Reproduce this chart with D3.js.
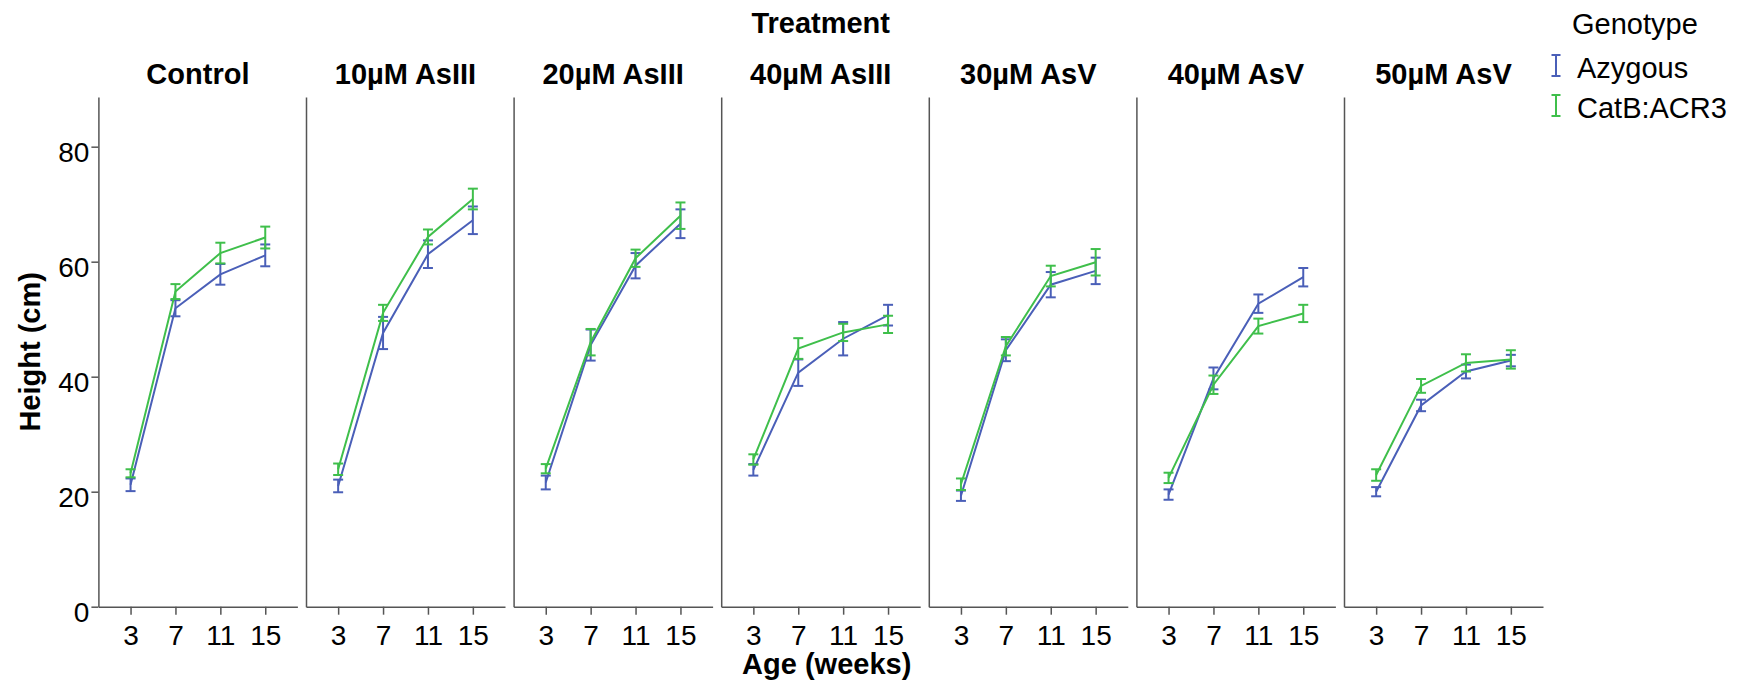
<!DOCTYPE html>
<html>
<head>
<meta charset="utf-8">
<script src="https://cdn.jsdelivr.net/npm/d3@7"></script>
<style>
  body { margin: 0; background: #fff; }
  svg { display: block; font-family: "Liberation Sans", Arial, sans-serif; }
  .axis path, .axis line { stroke: #555; stroke-width: 1.5; }
  .axis text { font-size: 28px; fill: #000; }
</style>
</head>
<body>
<div class="chart-container"></div>
<script>
var w = 1744;
var h = 683;

var treatments = ["Control", "10\u00b5M AsIII", "20\u00b5M AsIII", "40\u00b5M AsIII", "30\u00b5M AsV", "40\u00b5M AsV", "50\u00b5M AsV"];
var weeks = [3, 7, 11, 15];
var genotypes = ["Azygous", "CatB:ACR3"];
var colors = ["#4a5fb8", "#3fbf4b"];
var yTicks = [0, 20, 40, 60, 80];

// mean height (cm) per treatment, one row per treatment, columns = weeks
var azygousMean = [
    [21.2, 51.9, 57.8, 61.1],
    [21.0, 47.6, 61.3, 67.2],
    [21.6, 45.5, 59.3, 66.6],
    [23.8, 40.7, 46.6, 50.7],
    [19.3, 44.6, 56.0, 58.4],
    [19.5, 39.7, 52.7, 57.3],
    [20.0, 35.0, 40.9, 42.8]
];
var azygousErr = [
    [1.1, 1.4, 1.8, 1.9],
    [1.1, 2.8, 2.4, 2.4],
    [1.2, 2.7, 2.2, 2.5],
    [1.0, 2.3, 2.9, 1.8],
    [0.9, 1.9, 2.2, 2.3],
    [0.9, 1.9, 1.6, 1.6],
    [0.8, 1.0, 1.2, 1.0]
];
var catbMean = [
    [23.2, 54.8, 61.5, 64.2],
    [23.9, 51.1, 64.3, 70.9],
    [24.0, 46.0, 60.6, 68.0],
    [25.6, 44.9, 47.7, 49.1],
    [21.3, 45.3, 57.5, 59.9],
    [22.4, 38.6, 48.8, 51.0],
    [22.9, 38.4, 42.4, 43.0]
];
var catbErr = [
    [0.7, 1.3, 1.8, 1.9],
    [1.0, 1.4, 1.3, 1.8],
    [0.8, 2.3, 1.5, 2.3],
    [0.9, 1.8, 1.5, 1.5],
    [1.0, 1.6, 1.8, 2.3],
    [0.9, 1.6, 1.3, 1.5],
    [1.0, 1.2, 1.5, 1.6]
];

var left = 98.4;
var panelW = 199;
var panelStep = 207.6;
var plotTop = 97;
var plotBottom = 606.7;

var svg = d3.select(".chart-container")
    .append("svg")
    .attr("width", w)
    .attr("height", h);

var yScale = d3.scaleLinear()
    .domain([0, 88.64])
    .range([plotBottom, plotTop]);

var xScale = d3.scalePoint()
    .domain(weeks)
    .range([0, panelW])
    .padding(0.716);

var line = d3.line()
    .x(function(d) { return xScale(d.week); })
    .y(function(d) { return yScale(d.mean); });

treatments.forEach(function(t, i) {
    var g = svg.append("g")
        .attr("transform", "translate(" + (left + i * panelStep) + ",0)");

    // x axis
    g.append("g")
        .attr("class", "axis")
        .attr("transform", "translate(0," + plotBottom + ")")
        .call(d3.axisBottom(xScale).tickSizeInner(8).tickSizeOuter(0).tickPadding(10));

    // y axis (labels only on first panel)
    var yAxis = d3.axisLeft(yScale).tickSizeOuter(0);
    if (i == 0) {
        yAxis.tickValues(yTicks).tickSizeInner(7).tickPadding(2);
    } else {
        yAxis.tickValues([]);
    }
    var ya = g.append("g")
        .attr("class", "axis")
        .call(yAxis);
    ya.selectAll("text").attr("dy", "0.54em");

    // panel title
    g.append("text")
        .attr("x", panelW / 2)
        .attr("y", 84)
        .attr("text-anchor", "middle")
        .attr("font-size", "29px")
        .attr("font-weight", "bold")
        .text(t);

    var series = [
        { mean: azygousMean[i], err: azygousErr[i], color: colors[0] },
        { mean: catbMean[i], err: catbErr[i], color: colors[1] }
    ];

    series.forEach(function(s) {
        var pts = weeks.map(function(wk, j) {
            return { week: wk, mean: s.mean[j], err: s.err[j] };
        });

        g.append("path")
            .datum(pts)
            .attr("fill", "none")
            .attr("stroke", s.color)
            .attr("stroke-width", 2)
            .attr("d", line);

        var eb = g.selectAll(null)
            .data(pts)
            .enter()
            .append("g")
            .attr("stroke", s.color)
            .attr("stroke-width", 2);

        eb.append("line")
            .attr("x1", function(d) { return xScale(d.week); })
            .attr("x2", function(d) { return xScale(d.week); })
            .attr("y1", function(d) { return yScale(d.mean - d.err); })
            .attr("y2", function(d) { return yScale(d.mean + d.err); });
        eb.append("line")
            .attr("x1", function(d) { return xScale(d.week) - 5; })
            .attr("x2", function(d) { return xScale(d.week) + 5; })
            .attr("y1", function(d) { return yScale(d.mean + d.err); })
            .attr("y2", function(d) { return yScale(d.mean + d.err); });
        eb.append("line")
            .attr("x1", function(d) { return xScale(d.week) - 5; })
            .attr("x2", function(d) { return xScale(d.week) + 5; })
            .attr("y1", function(d) { return yScale(d.mean - d.err); })
            .attr("y2", function(d) { return yScale(d.mean - d.err); });
    });
});

var midX = left + (treatments.length - 1) * panelStep / 2 + panelW / 2;

svg.append("text")
    .attr("x", midX)
    .attr("y", 33)
    .attr("text-anchor", "middle")
    .attr("font-size", "29px")
    .attr("font-weight", "bold")
    .text("Treatment");

svg.append("text")
    .attr("x", midX + 6)
    .attr("y", 674)
    .attr("text-anchor", "middle")
    .attr("font-size", "29px")
    .attr("font-weight", "bold")
    .text("Age (weeks)");

svg.append("text")
    .attr("transform", "translate(40," + ((plotTop + plotBottom) / 2) + ") rotate(-90)")
    .attr("text-anchor", "middle")
    .attr("font-size", "29px")
    .attr("font-weight", "bold")
    .text("Height (cm)");

// legend
svg.append("text")
    .attr("x", 1572)
    .attr("y", 34)
    .attr("font-size", "29px")
    .text("Genotype");

var legend = svg.selectAll(".legend")
    .data(genotypes)
    .enter()
    .append("g")
    .attr("class", "legend")
    .attr("transform", function(d, i) { return "translate(1556," + (55 + i * 40) + ")"; });

legend.append("path")
    .attr("d", "M-4.5,0H4.5M0,0V21M-4.5,21H4.5")
    .attr("fill", "none")
    .attr("stroke-width", 2)
    .attr("stroke", function(d, i) { return colors[i]; });

legend.append("text")
    .attr("x", 21)
    .attr("y", 23)
    .attr("font-size", "29px")
    .text(function(d) { return d; });
</script>
</body>
</html>
